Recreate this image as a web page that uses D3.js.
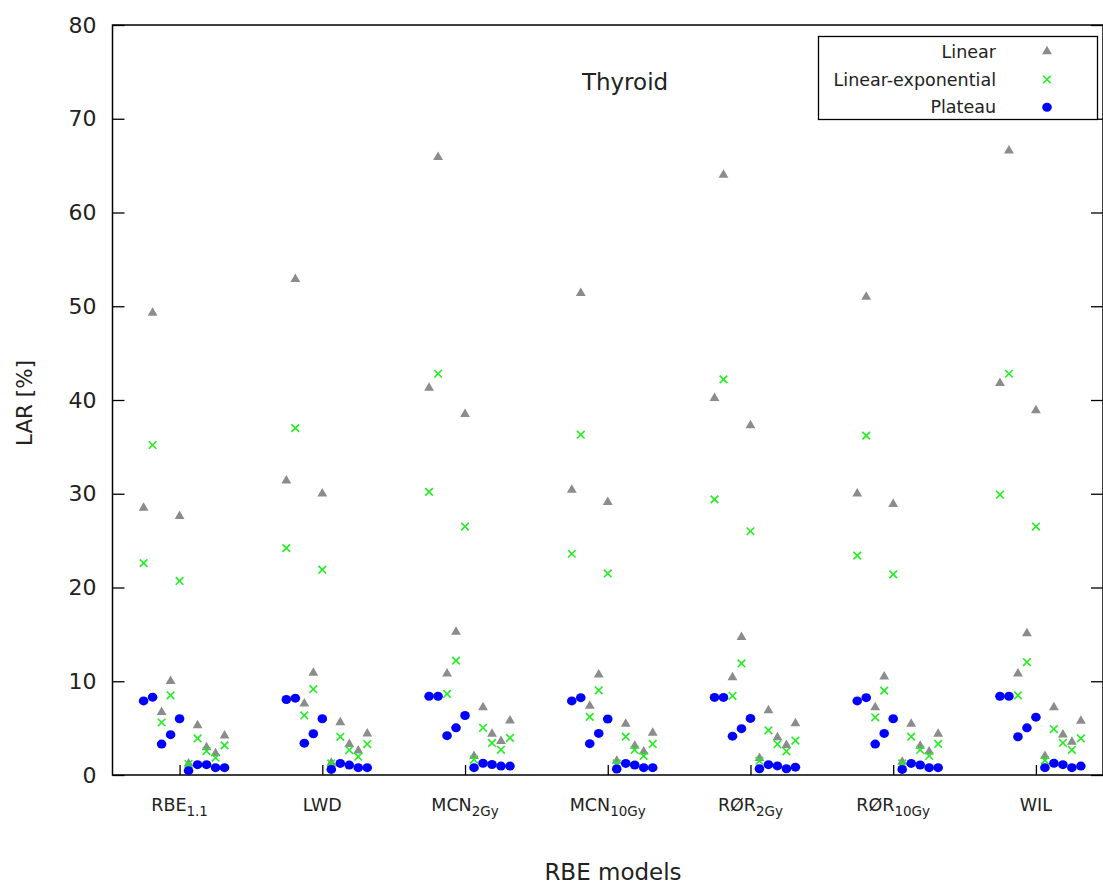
<!DOCTYPE html>
<html>
<head>
<meta charset="utf-8">
<script src="https://cdn.jsdelivr.net/npm/d3@7"></script>
<style>
  html, body { margin: 0; padding: 0; background: #fff; }
  svg { display: block; }
  text { font-family: "DejaVu Sans", sans-serif; fill: #222; }
</style>
</head>
<body>
<svg id="chart" width="1103" height="884"></svg>
<script>
// ---------------- data ----------------
const categories = ["RBE", "LWD", "MCN", "MCN", "RØR", "RØR", "WIL"];
const subscripts = ["1.1", "", "2Gy", "10Gy", "2Gy", "10Gy", ""];
const yTicks = [0, 10, 20, 30, 40, 50, 60, 70, 80];
const seriesNames = ["Linear", "Linear-exponential", "Plateau"];

// ten sub-positions per RBE model (left to right)
const linear = [
  [28.5, 49.3, 6.7, 10.0, 27.6, 1.2, 5.3, 2.95, 2.3, 4.2],
  [31.4, 52.9, 7.6, 10.9, 30.0, 1.3, 5.6, 3.3, 2.6, 4.4],
  [41.3, 65.9, 10.8, 15.25, 38.5, 2.0, 7.2, 4.38, 3.6, 5.8],
  [30.4, 51.4, 7.36, 10.7, 29.1, 1.5, 5.44, 3.09, 2.49, 4.5],
  [40.2, 64.0, 10.4, 14.7, 37.3, 1.8, 6.9, 4.0, 3.17, 5.5],
  [30.0, 51.0, 7.2, 10.5, 28.9, 1.4, 5.44, 3.09, 2.49, 4.37],
  [41.8, 66.6, 10.8, 15.1, 38.9, 2.0, 7.22, 4.3, 3.52, 5.78]
];
const linExp = [
  [22.6, 35.2, 5.6, 8.5, 20.7, 1.17, 3.9, 2.55, 1.84, 3.16],
  [24.2, 37.0, 6.35, 9.15, 21.9, 1.24, 4.07, 2.66, 1.95, 3.3],
  [30.2, 42.8, 8.65, 12.2, 26.5, 1.65, 5.03, 3.42, 2.69, 3.96],
  [23.6, 36.3, 6.2, 9.03, 21.5, 1.24, 4.09, 2.67, 2.03, 3.31],
  [29.4, 42.2, 8.45, 11.9, 26.0, 1.52, 4.77, 3.29, 2.53, 3.67],
  [23.4, 36.2, 6.15, 9.0, 21.4, 1.24, 4.09, 2.67, 2.03, 3.31],
  [29.9, 42.8, 8.5, 12.05, 26.5, 1.56, 4.9, 3.42, 2.69, 3.9]
];
const plateau = [
  [7.9, 8.3, 3.3, 4.3, 6.0, 0.46, 1.1, 1.1, 0.78, 0.78],
  [8.05, 8.2, 3.4, 4.4, 6.0, 0.6, 1.24, 1.06, 0.78, 0.78],
  [8.4, 8.4, 4.2, 5.03, 6.35, 0.78, 1.25, 1.12, 0.95, 0.95],
  [7.9, 8.25, 3.34, 4.44, 5.97, 0.64, 1.24, 1.07, 0.78, 0.78],
  [8.28, 8.28, 4.14, 4.94, 6.04, 0.67, 1.1, 0.97, 0.67, 0.84],
  [7.9, 8.25, 3.3, 4.44, 6.0, 0.6, 1.24, 1.07, 0.78, 0.78],
  [8.4, 8.4, 4.08, 5.03, 6.17, 0.78, 1.25, 1.1, 0.78, 0.95]
];

// ---------------- layout ----------------
const W = 1103, H = 884;
const plot = { left: 112.5, right: 1103, top: 25, bottom: 775 };
const subStep = 0.063;      // spacing of the ten sub-positions (in category units)
const subCenter = 4;        // sub-position that sits on the tick

const colors = { linear: "#8c8c8c", linExp: "#22ee22", plateau: "#0000ff" };

const svg = d3.select("#chart");

const x = d3.scaleLinear().domain([-0.47, 6.47]).range([plot.left, plot.right]);
const y = d3.scaleLinear().domain([0, 80]).range([plot.bottom, plot.top]);

// ---------------- axes ----------------
const yAxis = d3.axisLeft(y).tickValues(yTicks).tickSizeInner(-12).tickSizeOuter(0).tickPadding(16);
const gy = svg.append("g").attr("transform", `translate(${plot.left},0)`).call(yAxis);
gy.select(".domain").remove();
gy.selectAll(".tick line").attr("stroke", "#000").attr("stroke-width", 1.3);
gy.selectAll(".tick text").attr("font-size", 22).attr("font-family", "DejaVu Sans").attr("fill", "#222");

const yAxisR = d3.axisRight(y).tickValues(yTicks).tickSizeInner(-12).tickSizeOuter(0).tickFormat("");
const gyr = svg.append("g").attr("transform", `translate(${plot.right},0)`).call(yAxisR);
gyr.select(".domain").remove();
gyr.selectAll(".tick line").attr("stroke", "#000").attr("stroke-width", 1.3);

const xAxis = d3.axisBottom(x).tickValues(d3.range(categories.length)).tickSizeInner(-10).tickSizeOuter(0).tickFormat("");
const gx = svg.append("g").attr("transform", `translate(0,${plot.bottom})`).call(xAxis);
gx.select(".domain").remove();
gx.selectAll(".tick line").attr("stroke", "#000").attr("stroke-width", 1.3);

// x tick labels with subscripts
const xl = svg.append("g").selectAll("text").data(categories).join("text")
  .attr("x", (d, i) => x(i))
  .attr("y", plot.bottom + 36)
  .attr("text-anchor", "middle")
  .attr("font-size", 17.5)
  .attr("fill", "#222");
xl.append("tspan").text(d => d);
xl.append("tspan").attr("dy", 5).attr("font-size", 13.5).text((d, i) => subscripts[i]);

// border
svg.append("path")
  .attr("d", `M${plot.right},${plot.top}H${plot.left}V${plot.bottom}H${plot.right}V${plot.top}`)
  .attr("fill", "none").attr("stroke", "#000").attr("stroke-width", 1.5);

// ---------------- points ----------------
function flatten(arr) {
  const out = [];
  arr.forEach((grp, i) => grp.forEach((v, j) => out.push({ xv: i + (j - subCenter) * subStep, v })));
  return out;
}
const triSym = d3.symbol().type(d3.symbolTriangle).size(42);

const gLin = svg.append("g");
gLin.selectAll("path").data(flatten(linear)).join("path")
  .attr("d", triSym)
  .attr("transform", d => `translate(${x(d.xv)},${y(d.v)})`)
  .attr("fill", colors.linear);

const xr = 3.8;
const gLe = svg.append("g");
gLe.selectAll("path").data(flatten(linExp)).join("path")
  .attr("d", d => {
    const cx = x(d.xv), cy = y(d.v);
    return `M${cx - xr},${cy - xr}L${cx + xr},${cy + xr}M${cx - xr},${cy + xr}L${cx + xr},${cy - xr}`;
  })
  .attr("stroke", colors.linExp).attr("stroke-width", 1.6).attr("fill", "none");

const gPl = svg.append("g");
gPl.selectAll("ellipse").data(flatten(plateau)).join("ellipse")
  .attr("cx", d => x(d.xv)).attr("cy", d => y(d.v))
  .attr("rx", 4.8).attr("ry", 4.5)
  .attr("fill", colors.plateau);

// ---------------- title & axis titles ----------------
svg.append("text").attr("x", 625).attr("y", 90).attr("text-anchor", "middle")
  .attr("font-size", 23).text("Thyroid");
svg.append("text").attr("x", 613).attr("y", 880).attr("text-anchor", "middle")
  .attr("font-size", 23).text("RBE models");
svg.append("text").attr("transform", "translate(32,403) rotate(-90)").attr("text-anchor", "middle")
  .attr("font-size", 21.5).text("LAR [%]");

// ---------------- legend ----------------
const lg = svg.append("g");
lg.append("rect").attr("x", 818.5).attr("y", 36.5).attr("width", 279).attr("height", 83)
  .attr("fill", "#fff").attr("stroke", "#000").attr("stroke-width", 1.3);
const rowsY = [51.5, 79.5, 107.3];
const symX = 1047;
seriesNames.forEach((name, k) => {
  lg.append("text").attr("x", 996).attr("y", rowsY[k]).attr("dy", "0.35em")
    .attr("text-anchor", "end").attr("font-size", 17.5).text(name);
});
lg.append("path").attr("d", triSym).attr("transform", `translate(${symX},${rowsY[0]})`).attr("fill", colors.linear);
lg.append("path")
  .attr("d", `M${symX - xr},${rowsY[1] - xr}L${symX + xr},${rowsY[1] + xr}M${symX - xr},${rowsY[1] + xr}L${symX + xr},${rowsY[1] - xr}`)
  .attr("stroke", colors.linExp).attr("stroke-width", 1.6);
lg.append("ellipse").attr("cx", symX).attr("cy", rowsY[2]).attr("rx", 4.8).attr("ry", 4.5).attr("fill", colors.plateau);
</script>
</body>
</html>
